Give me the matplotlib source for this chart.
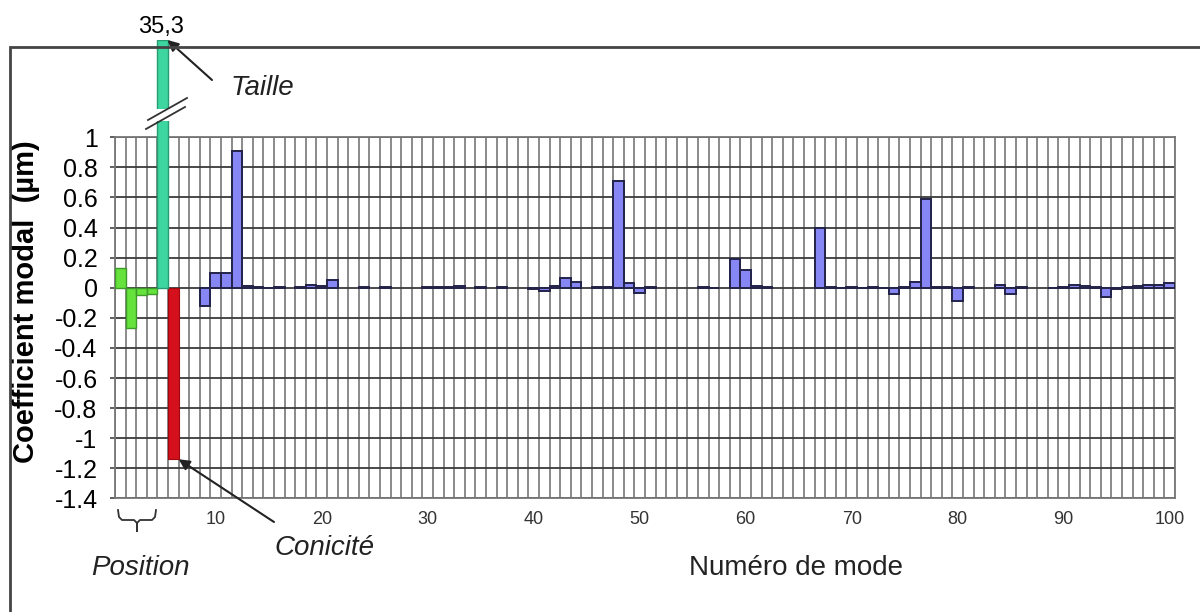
import numpy as np
import matplotlib.pyplot as plt
from matplotlib.lines import Line2D
from matplotlib.patches import Rectangle

plt.rcParams['font.family'] = ['Liberation Sans', 'DejaVu Sans']

# Modal coefficients (µm)
position_modes = [1, 2, 3, 4]
position_vals = [0.13, -0.27, -0.05, -0.04]
taille_mode = 5
taille_val = 35.3
conicite_mode = 6
conicite_val = -1.14

# modes 9..100, None = no bar
other_first_mode = 9
other_vals = [
    -0.12, 0.10, 0.10, 0.91, 0.01, 0.004, -0.003, 0.003, None, 0.003,      # 9-18
    0.02, 0.008, 0.05, None, None, 0.003, None, 0.003, None, None,         # 19-28
    None, 0.003, 0.003, 0.003, 0.01, None, 0.003, None, 0.003, None,       # 29-38
    None, -0.01, -0.025, 0.01, 0.065, 0.035, None, 0.003, 0.003, 0.71,     # 39-48
    0.03, -0.035, 0.003, None, None, None, None, 0.003, -0.005, None,      # 49-58
    0.19, 0.115, 0.01, 0.003, None, None, None, None, 0.40, 0.005,         # 59-68
    -0.005, 0.005, -0.005, 0.005, -0.005, -0.04, 0.005, 0.04, 0.59, 0.005,  # 69-78
    0.003, -0.09, 0.003, None, None, 0.02, -0.04, 0.005, None, None,       # 79-88
    -0.005, 0.005, 0.02, 0.01, 0.003, -0.06, -0.01, 0.003, 0.01, 0.02,     # 89-98
    0.02, 0.03,                                                            # 99-100
]
n_modes = 100
xtick_vals = list(range(10, 101, 10))
ytick_vals = [round(v, 1) for v in np.arange(-1.4, 1.01, 0.2)]

# Colours
green = '#66e23c'
teal = '#3ed6a0'
red = '#d3101c'
blue = '#8686f4'

W, H = 1200, 612
fig = plt.figure(figsize=(W / 100, H / 100), dpi=100)


def box(x0, y0, x1, y1):
    # pixel box (top-left origin) -> figure fraction rect
    return [x0 / W, 1 - y1 / H, (x1 - x0) / W, (y1 - y0) / H]


def fpt(x, y):
    return (x / W, 1 - y / H)


ax = fig.add_axes(box(115, 137.2, 1175, 498.4))
ax_mid = fig.add_axes(box(115, 121, 1175, 137.2))
ax_top = fig.add_axes(box(115, 40, 1175, 109))

# main axis bars
ax.bar(position_modes, position_vals, width=1.0, color=green,
       edgecolor='#3f9a2c', linewidth=1.0, zorder=3)
ax.bar(conicite_mode, conicite_val, width=1.0, color=red,
       edgecolor='#a00810', linewidth=0.8, zorder=3)
om = [other_first_mode + i for i, v in enumerate(other_vals) if v is not None]
ov = [v for v in other_vals if v is not None]
ax.bar(om, ov, width=1.0, color=blue, edgecolor='#23234a',
       linewidth=1.4, zorder=3)

# taille bar, broken into three pieces
for a in (ax, ax_mid, ax_top):
    a.bar(taille_mode, taille_val, width=1.0, color=teal,
          edgecolor='#259c72', linewidth=1.0, zorder=3)
    a.set_xlim(0.5, n_modes + 0.5)

ax.set_ylim(-1.4, 1.0)
ax_mid.set_ylim(1.0, 1.0 + 16.2 / 150.5)
ax_top.set_ylim(34.6, taille_val)
ax_mid.axis('off')
ax_top.axis('off')

# grid
ax.set_axisbelow(True)
ax.set_xticks(np.arange(0.5, n_modes + 1, 1.0), minor=True)
ax.set_xticks(xtick_vals)
ax.set_xticklabels([str(v) for v in xtick_vals], fontsize=13, color='#333333')
ax.set_yticks(ytick_vals)
ax.set_yticklabels(['0' if v == 0 else f'{v:g}' for v in ytick_vals], fontsize=18)
ax.grid(which='minor', axis='x', color='#8a8a8a', linewidth=1.4)
ax.grid(which='major', axis='y', color='#3a3a3a', linewidth=1.3)
ax.tick_params(axis='x', which='both', length=0, pad=9)
ax.tick_params(axis='y', length=3.6, width=1.2, color='#444444', pad=9)
for s in ax.spines.values():
    s.set_color('#777777')
    s.set_linewidth(1.3)

ax.set_ylabel('Coefficient modal  (µm)', fontsize=21, fontweight='bold')
ax.yaxis.set_label_coords(-0.0708, 0.544)

# value above taille bar
ax_top.annotate('35,3', xy=(taille_mode, taille_val), xytext=(-1, 5),
                textcoords='offset points', ha='center', va='baseline',
                fontsize=17, annotation_clip=False)

# break marks
for (x0, y0, x1, y1) in [(148, 120, 187, 98), (146, 129, 185, 107)]:
    fig.add_artist(Line2D([x0 / W, x1 / W], [1 - y0 / H, 1 - y1 / H],
                          color='#333333', linewidth=1.3))

# annotations
arrow = dict(arrowstyle='-|>', color='#222222', lw=1.5,
             shrinkA=0, shrinkB=0, mutation_scale=16)
ax_top.annotate('', xy=(taille_mode + 0.45, taille_val), xycoords='data',
                xytext=fpt(212, 80), textcoords='figure fraction',
                arrowprops=arrow, annotation_clip=False)
fig.text(*fpt(262, 88), 'Taille', style='italic', fontsize=20,
         ha='center', va='center', color='#222222')

ax.annotate('', xy=(conicite_mode + 0.5, conicite_val), xycoords='data',
            xytext=fpt(274, 522), textcoords='figure fraction',
            arrowprops=arrow, annotation_clip=False)
fig.text(*fpt(324, 548), 'Conicité', style='italic', fontsize=20,
         ha='center', va='center', color='#222222')

fig.text(*fpt(140, 568), 'Position', style='italic', fontsize=20,
         ha='center', va='center', color='#222222')
fig.text(*fpt(796, 568), 'Numéro de mode', fontsize=20,
         ha='center', va='center', color='#222222')

# brace under the position modes
bx = [118, 119, 122, 134, 137, 137, 137, 140, 152, 155, 156]
by = [510, 517, 520, 520, 523, 531, 523, 520, 520, 517, 510]
fig.add_artist(Line2D([x / W for x in bx], [1 - y / H for y in by],
                      color='#333333', linewidth=1.3))

# outer frame (runs off the right and bottom edges)
fig.add_artist(Rectangle(fpt(10, 640), 1300 / W, (640 - 47) / H,
                         fill=False, edgecolor='#444444', linewidth=2,
                         transform=fig.transFigure))

fig.savefig('out.png', dpi=100, facecolor='white')
